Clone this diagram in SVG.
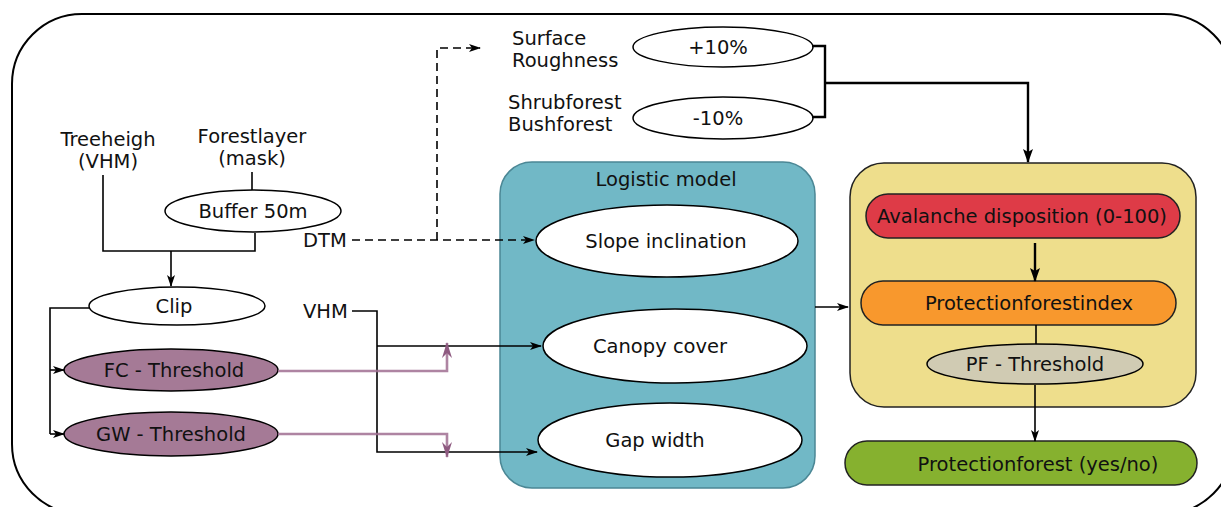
<svg xmlns="http://www.w3.org/2000/svg" width="1221" height="507" viewBox="0 0 1221 507">
<defs>
<marker id="ah" viewBox="0 0 12 8" refX="11" refY="4" markerWidth="12" markerHeight="8" markerUnits="userSpaceOnUse" orient="auto">
<path d="M0,0 L12,4 L0,8 L3,4 z" fill="#000"/>
</marker>
<marker id="ahb" viewBox="0 0 14 10" refX="13" refY="5" markerWidth="14" markerHeight="10" markerUnits="userSpaceOnUse" orient="auto">
<path d="M0,0 L14,5 L0,10 L3,5 z" fill="#000"/>
</marker>
<marker id="ahp" viewBox="0 0 16 10" refX="15" refY="5" markerWidth="16" markerHeight="10" markerUnits="userSpaceOnUse" orient="auto">
<path d="M0,0 L16,5 L0,10 L5,5 z" fill="#8e5a80"/>
</marker>
</defs>
<style>
text{font-family:"DejaVu Sans","Liberation Sans",sans-serif;font-size:19.5px;fill:#111;}
.c{text-anchor:middle;}
.ln{fill:none;stroke:#000;stroke-width:1.6;}
.thick{fill:none;stroke:#000;stroke-width:2.4;}
.dash{fill:none;stroke:#000;stroke-width:1.6;stroke-dasharray:8,5;}
.pink{fill:none;stroke:#a06f92;stroke-width:2.6;stroke-opacity:0.85;}
.el{stroke:#000;stroke-width:1.5;}
</style>
<rect x="12" y="14" width="1222" height="500" rx="70" ry="70" fill="none" stroke="#000" stroke-width="2"/>

<g id="treeheigh"><text class="c" x="108" y="146">Treeheigh</text><text class="c" x="108" y="168">(VHM)</text></g>
<g id="forestlayer"><text class="c" x="252" y="143">Forestlayer</text><text class="c" x="252" y="165">(mask)</text></g>
<g id="buffer"><ellipse class="el" cx="253" cy="211" rx="88" ry="21" fill="#fff"/><text class="c" x="253" y="218">Buffer 50m</text></g>
<g id="clip"><ellipse class="el" cx="177" cy="306" rx="88" ry="19" fill="#fff"/><text class="c" x="174" y="313">Clip</text></g>
<g id="fc"><ellipse class="el" cx="171" cy="370" rx="107" ry="21" fill="#a57a96"/><text class="c" x="174" y="377">FC - Threshold</text></g>
<g id="gw"><ellipse class="el" cx="171" cy="434" rx="107" ry="22" fill="#a57a96"/><text class="c" x="171" y="441">GW - Threshold</text></g>
<g id="dtm"><text x="303" y="247">DTM</text></g>
<g id="vhm"><text x="303" y="318">VHM</text></g>
<g id="surface"><text x="512" y="45">Surface</text><text x="512" y="67">Roughness</text></g>
<g id="shrub"><text x="508" y="109">Shrubforest</text><text x="508" y="131">Bushforest</text></g>
<g id="plus10"><ellipse class="el" cx="723" cy="47" rx="90" ry="20" fill="#fff"/><text class="c" x="718" y="54">+10%</text></g>
<g id="minus10"><ellipse class="el" cx="723" cy="118" rx="90" ry="21" fill="#fff"/><text class="c" x="718" y="125">-10%</text></g>

<g id="logistic">
<rect x="500" y="162" width="315" height="326" rx="32" ry="32" fill="#71b8c6" stroke="#4b8795" stroke-width="1.5"/>
<text class="c" x="666" y="186">Logistic model</text>
</g>
<g id="slope"><ellipse class="el" cx="667" cy="241" rx="131" ry="36" fill="#fff"/><text class="c" x="666" y="248">Slope inclination</text></g>
<g id="canopy"><ellipse class="el" cx="675" cy="346" rx="132" ry="37" fill="#fff"/><text class="c" x="660" y="353">Canopy cover</text></g>
<g id="gap"><ellipse class="el" cx="670" cy="440" rx="132" ry="37" fill="#fff"/><text class="c" x="655" y="447">Gap width</text></g>

<g id="result">
<rect x="850" y="163" width="346" height="244" rx="34" ry="34" fill="#eede8c" stroke="#222" stroke-width="1.5"/>
</g>
<g id="avalanche"><rect x="866" y="194" width="314" height="44" rx="22" ry="22" fill="#de3b47" stroke="#222" stroke-width="1.5"/><text class="c" x="1022" y="223">Avalanche disposition (0-100)</text></g>
<g id="pfi"><rect x="861" y="281" width="315" height="44" rx="22" ry="22" fill="#f8982d" stroke="#222" stroke-width="1.5"/><text class="c" x="1029" y="310">Protectionforestindex</text></g>
<g id="pfth"><ellipse class="el" cx="1035" cy="364" rx="108" ry="20" fill="#d0cbb3"/><text class="c" x="1035" y="371">PF - Threshold</text></g>
<g id="pf"><rect x="845" y="441" width="352" height="44" rx="22" ry="22" fill="#86b12f" stroke="#222" stroke-width="1.5"/><text class="c" x="1038" y="471">Protectionforest (yes/no)</text></g>

<g id="connectors">
<path class="ln" d="M103,175 V251 H255 V233"/>
<path class="ln" d="M171,251 V286" marker-end="url(#ah)"/>
<path class="ln" d="M252,172 V190"/>
<path class="ln" d="M89,308 H50 V434"/>
<path class="ln" d="M50,370 H64" marker-end="url(#ah)"/>
<path class="ln" d="M50,434 H64" marker-end="url(#ah)"/>
<path class="dash" d="M352,240 H534" marker-end="url(#ah)"/>
<path class="dash" d="M437,240 V48 H480" marker-end="url(#ah)"/>
<path class="ln" d="M352,311 H377 V452 H537" marker-end="url(#ah)"/>
<path class="ln" d="M377,346 H541" marker-end="url(#ah)"/>
<path class="pink" d="M278,371 H447 V343" marker-end="url(#ahp)"/>
<path class="pink" d="M278,434 H447 V457" marker-end="url(#ahp)"/>
<path class="ln" d="M815,307 H848" marker-end="url(#ah)"/>
<path class="thick" d="M812,46 H825 V117 H812"/>
<path class="thick" d="M825,83 H1028 V162" marker-end="url(#ahb)"/>
<path class="thick" d="M1035,243 V281" marker-end="url(#ahb)"/>
<path class="ln" d="M1036,325 V344"/>
<path class="ln" d="M1035,385 V441" marker-end="url(#ah)"/>
</g>
</svg>
